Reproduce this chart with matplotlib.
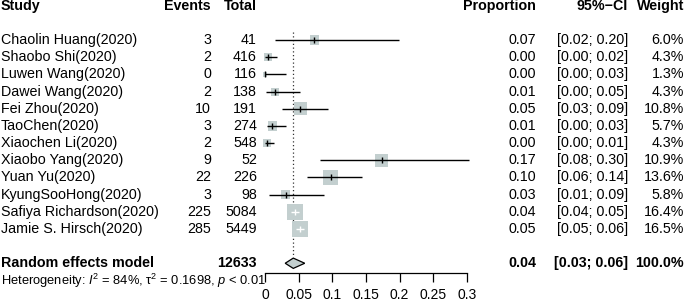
import matplotlib
matplotlib.use("Agg")
import matplotlib.pyplot as plt
from matplotlib.patches import Polygon

plt.rcParams['font.family'] = ['Liberation Sans', 'DejaVu Sans']
plt.rcParams['mathtext.fontset'] = 'custom'
plt.rcParams['mathtext.rm'] = 'Liberation Sans'
plt.rcParams['mathtext.it'] = 'Liberation Sans:italic'
plt.rcParams['mathtext.bf'] = 'Liberation Sans:bold'

# ---- data ----
studies = ["Chaolin Huang(2020)", "Shaobo Shi(2020)", "Luwen Wang(2020)", "Dawei Wang(2020)",
           "Fei Zhou(2020)", "TaoChen(2020)", "Xiaochen Li(2020)", "Xiaobo Yang(2020)",
           "Yuan Yu(2020)", "KyungSooHong(2020)", "Safiya Richardson(2020)", "Jamie S. Hirsch(2020)"]
events = [3, 2, 0, 2, 10, 3, 2, 9, 22, 3, 225, 285]
totals = [41, 416, 116, 138, 191, 274, 548, 52, 226, 98, 5084, 5449]
proportion = [0.0732, 0.0048, 0.0, 0.0145, 0.0524, 0.0109, 0.0036, 0.1731, 0.0973, 0.0306, 0.0443, 0.0523]
ci_lower = [0.0153, 0.0006, 0.0, 0.0018, 0.0254, 0.0023, 0.0004, 0.0823, 0.0620, 0.0064, 0.0388, 0.0465]
ci_upper = [0.1992, 0.0173, 0.0313, 0.0514, 0.0941, 0.0317, 0.0131, 0.3033, 0.1436, 0.0869, 0.0503, 0.0586]
weights = [6.0, 4.3, 1.3, 4.3, 10.8, 5.7, 4.3, 10.9, 13.6, 5.8, 16.4, 16.5]
pooled_est, pooled_lo, pooled_hi = 0.042, 0.030, 0.059
pooled_weight = 100.0
heterogeneity = r"Heterogeneity: $I^2$ = 84%, τ$^2$ = 0.1698, $p$ < 0.01"
xticks = [0, 0.05, 0.1, 0.15, 0.2, 0.25, 0.3]
xticklabels = ["0", "0.05", "0.1", "0.15", "0.2", "0.25", "0.3"]

# ---- layout ----
W, H = 685, 303
fig = plt.figure(figsize=(W / 100, H / 100), dpi=100)
bg = fig.add_axes([0, 0, 1, 1])
bg.set_xlim(0, W)
bg.set_ylim(H, 0)
bg.axis('off')

y0, dy = 5.7, 17.17
def rowy(r):
    return y0 + dy * r

FS = 10.3
col_events, col_total, col_prop, col_ci, col_w = 211, 257, 536, 628, 684

# header
hdr = dict(fontsize=FS, fontweight='bold', va='center')
bg.text(1, rowy(0), "Study", ha='left', **hdr)
bg.text(col_events, rowy(0), "Events", ha='right', **hdr)
bg.text(col_total, rowy(0), "Total", ha='right', **hdr)
bg.text(col_prop, rowy(0), "Proportion", ha='right', **hdr)
bg.text(col_ci, rowy(0), "95%\u2212CI", ha='right', **hdr)
bg.text(col_w, rowy(0), "Weight", ha='right', **hdr)

rows = list(range(2, 2 + len(studies)))
for r, s, e, n, p, lo, hi, w in zip(rows, studies, events, totals, proportion, ci_lower, ci_upper, weights):
    y = rowy(r)
    bg.text(1, y, s, ha='left', va='center', fontsize=FS)
    bg.text(col_events, y, f"{e}", ha='right', va='center', fontsize=FS)
    bg.text(col_total, y, f"{n}", ha='right', va='center', fontsize=FS)
    bg.text(col_prop, y, f"{p:.2f}", ha='right', va='center', fontsize=FS)
    bg.text(col_ci, y, f"[{lo:.2f}; {hi:.2f}]", ha='right', va='center', fontsize=FS)
    bg.text(col_w, y, f"{w:.1f}%", ha='right', va='center', fontsize=FS)

rr = rows[-1] + 2
y = rowy(rr)
bd = dict(fontsize=FS, fontweight='bold', va='center')
bg.text(1, y, "Random effects model", ha='left', **bd)
bg.text(col_total, y, f"{sum(totals)}", ha='right', **bd)
bg.text(col_prop, y, f"{pooled_est:.2f}", ha='right', **bd)
bg.text(col_ci, y, f"[{pooled_lo:.2f}; {pooled_hi:.2f}]", ha='right', **bd)
bg.text(col_w, y, f"{pooled_weight:.1f}%", ha='right', **bd)
bg.text(1, rowy(rr + 1), heterogeneity, ha='left', va='center', fontsize=9.3)

# ---- forest axes ----
x_left, x_right = 265, 467
ax_top_px, ax_bot_px = 20, 272.7
ax = fig.add_axes([x_left / W, (H - ax_bot_px) / H, (x_right - x_left) / W, (ax_bot_px - ax_top_px) / H])
ax.patch.set_alpha(0)
ax.set_xlim(0, 0.3)
ax.set_ylim((ax_bot_px - y0) / dy, (ax_top_px - y0) / dy)
for sp in ['top', 'right', 'left']:
    ax.spines[sp].set_visible(False)
ax.spines['bottom'].set_bounds(0, 0.3)
ax.spines['bottom'].set_linewidth(0.9)
ax.set_yticks([])
ax.set_xticks(xticks)
ax.set_xticklabels(xticklabels, fontsize=10)
ax.tick_params(axis='x', direction='out', length=6.5, width=0.9, pad=4.5)

px_per_unit = (x_right - x_left) / 0.3
box_col = '#c3cfcf'

# reference dotted line
ax.plot([pooled_est, pooled_est], [(32 - y0) / dy, rr - 0.35], color='#333333', lw=0.9,
        linestyle=(0, (1, 2)), zorder=1)

for r, p, lo, hi, w in zip(rows, proportion, ci_lower, ci_upper, weights):
    side_px = 3.9 * w ** 0.5
    half = side_px / 2 / px_per_unit
    inside = (lo >= p - half) and (hi <= p + half)
    lc = 'white' if inside else 'black'
    ax.scatter([p], [r], marker='s', s=(side_px * 0.72) ** 2, color=box_col, edgecolors='none',
               zorder=2, clip_on=False)
    ax.plot([lo, hi], [r, r], color=lc, lw=1.0, zorder=3, clip_on=False, solid_capstyle='butt')
    ax.plot([p], [r], marker='|', markersize=4.5, markeredgewidth=1.0, color=lc, zorder=3, clip_on=False)

dh = 0.3
diamond = Polygon([[pooled_lo, rr], [pooled_est, rr - dh], [pooled_hi, rr], [pooled_est, rr + dh]],
                  closed=True, facecolor=box_col, edgecolor='black', lw=0.9, zorder=3, clip_on=False)
ax.add_patch(diamond)

fig.savefig("out.png", dpi=100)
